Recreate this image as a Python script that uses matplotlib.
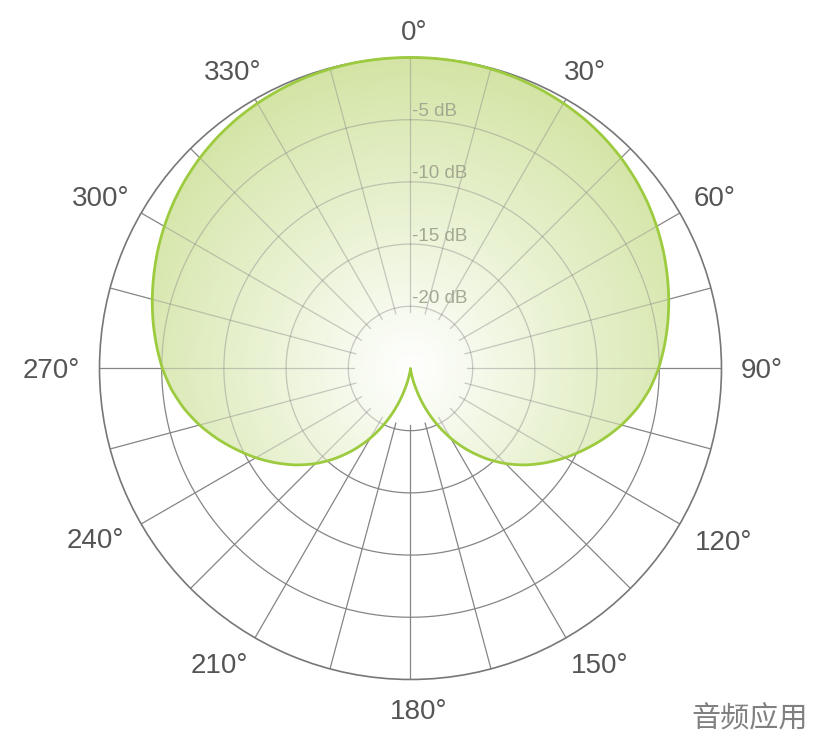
import numpy as np
import matplotlib
matplotlib.use("Agg")
import matplotlib.pyplot as plt
from matplotlib.colors import LinearSegmentedColormap

plt.rcParams['font.family'] = ['Liberation Sans', 'DejaVu Sans']

# pickup pattern, right half only (left half is mirrored)
angles_deg = [0, 5, 10, 15, 20, 25, 30, 35, 40, 45, 50, 55, 60, 65, 70, 75, 80, 85, 90,
              95, 100, 105, 110, 115, 120, 125, 130, 135, 140, 145, 150, 155, 160, 165,
              170, 175, 180]
level_db = [0.00, 0.00, -0.02, -0.07, -0.14, -0.25, -0.39, -0.56, -0.79, -1.06, -1.38,
            -1.74, -2.15, -2.58, -3.04, -3.51, -4.00, -4.52, -5.06, -5.71, -6.51, -7.44,
            -8.48, -9.57, -10.65, -11.78, -12.94, -14.19, -15.55, -17.00, -18.53, -20.14,
            -21.78, -23.39, -24.60, -25.00, -25.00]

ring_db = [-5, -10, -15, -20]
ring_labels = ['-5 dB', '-10 dB', '-15 dB', '-20 dB']
spoke_deg = list(range(0, 360, 15))
tick_deg = list(range(0, 360, 30))
tick_labels = [str(a) + '°' for a in tick_deg]
# where each angle label sits, pixels from its point on the outer circle
label_offsets_px = [(3.5, 27.5), (18.5, 29), (34.5, 17), (40, 0.5), (44, -16), (34, -25),
                    (8, -29.5), (-36, -25), (-46, -14), (-48.5, 0.5), (-41, 17), (-22.5, 29)]

db_min, db_max = -25, 0

# full loop: right half then mirrored left half
theta_full = np.deg2rad(angles_deg + [360 - a for a in angles_deg[::-1]][1:])
db_full = np.array(level_db + level_db[::-1][1:])

fig = plt.figure(figsize=(8.16, 7.38), dpi=100)
ax = fig.add_axes([0.1219, 0.0793, 0.7623, 0.8428], projection='polar')
ax.set_theta_zero_location('N')
ax.set_theta_direction(-1)
ax.set_ylim(db_min, db_max)
ax.grid(False)
ax.set_xticks([])
ax.set_yticks([])
ax.spines['polar'].set_color('#777777')
ax.spines['polar'].set_linewidth(1.2)

grid_col = '#858585'
tc = np.linspace(0, 2 * np.pi, 361)


def draw_grid(**kw):
    lines = []
    for a in spoke_deg:
        t = np.deg2rad(a)
        lines += ax.plot([t, t], [-20.45, db_max], color=grid_col, lw=0.9, **kw)
    for d in ring_db:
        lines += ax.plot(tc, np.full_like(tc, d), color=grid_col, lw=0.9, **kw)
    return lines


draw_grid(zorder=1)

# gradient fill clipped to the pattern
patch = ax.fill(theta_full, db_full, facecolor='none', edgecolor='none', zorder=2)[0]
patch.get_path()._interpolation_steps = 12   # follow the polar curve between points
cmap = LinearSegmentedColormap.from_list('pat', ['#ffffff', '#d3e4a5'])
tg, rg = np.meshgrid(np.linspace(0, 2 * np.pi, 181), np.linspace(db_min, db_max, 60))
mesh = ax.pcolormesh(tg, rg, rg, cmap=cmap, shading='gouraud',
                     vmin=db_min, vmax=db_max, zorder=2)
mesh.set_clip_path(patch)

# grid seen through the fill, lighter
for ln in draw_grid(zorder=3, alpha=0.42):
    ln.set_clip_path(patch)

# ring labels
for d, lab in zip(ring_db, ring_labels):
    ax.annotate(lab, xy=(0, d), xytext=(2, 8), textcoords='offset pixels',
                ha='left', va='center', fontsize=13.5, color='#a3a891', zorder=3)

curve, = ax.plot(theta_full, db_full, color='#9dcb3f', lw=2, zorder=4, clip_on=False)
curve.get_path()._interpolation_steps = 12

# angle labels around the circle
for a, lab, (dx, dy) in zip(tick_deg, tick_labels, label_offsets_px):
    ax.annotate(lab, xy=(np.deg2rad(a), db_max), xytext=(dx, dy - 3),
                textcoords='offset pixels', ha='center', va='center',
                fontsize=20, color='#555555', annotation_clip=False)

fig.text(0.99, 0.027, '音频应用', ha='right', va='center', fontsize=21,
         color='#808080', family=['Noto Sans CJK SC', 'DejaVu Sans'])

fig.savefig('out.png', dpi=100)
